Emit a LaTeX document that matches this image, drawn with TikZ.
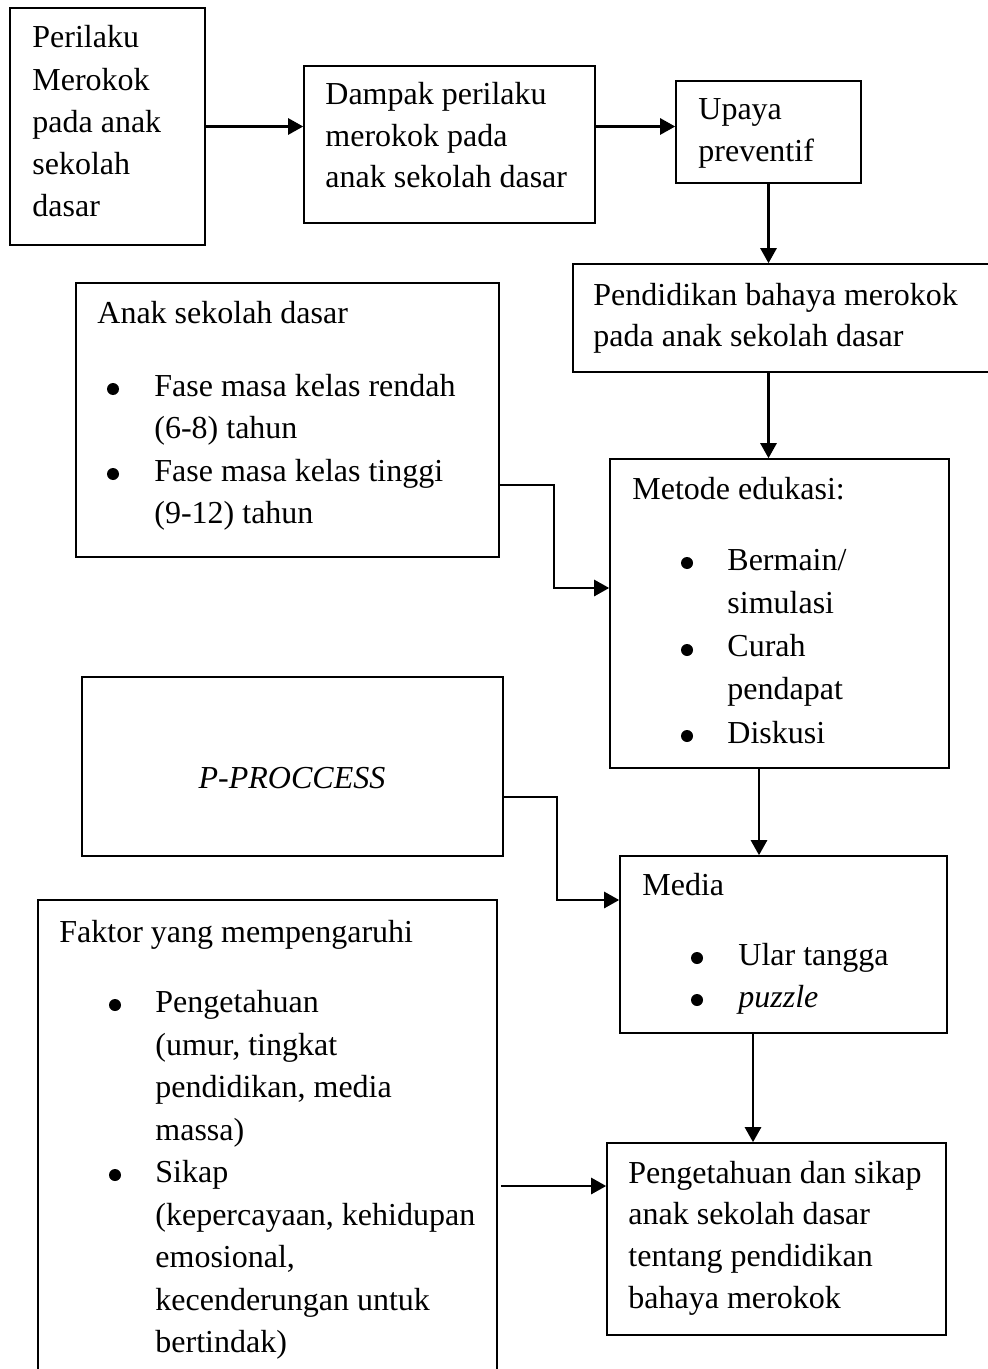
\documentclass[tikz,border=0pt]{standalone}
\usepackage{fontspec}
\setmainfont{Liberation Serif}
\usetikzlibrary{arrows.meta,fit}
\tikzset{
  kotak/.style={draw,line width=0.8pt,inner sep=0pt},
  txt/.style={anchor=base west,inner sep=0pt,font=\fontsize{16}{19}\selectfont},
  dot/.style={circle,fill,inner sep=0pt,minimum size=6pt},
  panah/.style={line width=1.3pt,-{Triangle[length=7.5pt,width=8pt]}}
}
\begin{document}
\begin{tikzpicture}[x=0.5pt,y=-0.5pt]
\useasboundingbox (0,0) rectangle (988,1369);
% kotak
\node[kotak,fit={(10,8) (205,245)}](perilaku){};
\node[kotak,fit={(304,66) (595,223)}](dampak){};
\node[kotak,fit={(676,81) (861,183)}](upaya){};
\node[kotak,fit={(573,264) (1010,372)}](pendidikan){};
\node[kotak,fit={(76,283) (499,557)}](anak){};
\node[kotak,fit={(610,459) (949,768)}](metode){};
\node[kotak,fit={(82,677) (503,856)}](pproc){};
\node[kotak,fit={(620,856) (947,1033)}](media){};
\node[kotak,fit={(38,900) (497,1400)}](faktor){};
\node[kotak,fit={(607,1143) (946,1335)}](hasil){};
% teks
\foreach \t [count=\i from 0] in {Perilaku,Merokok,pada anak,sekolah,dasar}
  \node[txt](perilaku-\i) at (32,48+42.2*\i){\t};
\foreach \t [count=\i from 0] in {Dampak perilaku,merokok pada,anak sekolah dasar}
  \node[txt](dampak-\i) at (325,105+41.5*\i){\t};
\foreach \t [count=\i from 0] in {Upaya,preventif}
  \node[txt](upaya-\i) at (698,120+42*\i){\t};
\foreach \t [count=\i from 0] in {Pendidikan bahaya merokok,pada anak sekolah dasar}
  \node[txt](pendidikan-\i) at (593,306+41*\i){\t};
\node[txt](anak-0) at (97,323){Anak sekolah dasar};
\foreach \t/\y [count=\i] in {Fase masa kelas rendah/396,(6-8) tahun/438,Fase masa kelas tinggi/481,(9-12) tahun/523}
  \node[txt](anak-\i) at (154,\y){\t};
\node[dot](anak-b1) at (113,389){};
\node[dot](anak-b2) at (113,474){};
\node[txt](metode-0) at (632,499){Metode edukasi:};
\foreach \t [count=\i] in {Bermain/,simulasi,Curah,pendapat,Diskusi}
  \node[txt](metode-\i) at (727,527+43.2*\i){\t};
\foreach \y [count=\i] in {563,650,736}
  \node[dot](metode-b\i) at (687,\y){};
\node[txt,anchor=base,font=\fontsize{16}{19}\selectfont\itshape](pproc-0) at (292,788){P-PROCCESS};
\node[txt](media-0) at (642,895){Media};
\node[txt](media-1) at (738,965){Ular tangga};
\node[txt](media-2) at (738,1007){\itshape puzzle};
\node[dot](media-b1) at (697,958){};
\node[dot](media-b2) at (697,1000){};
\node[txt](faktor-0) at (59,942){Faktor yang mempengaruhi};
\foreach \t [count=\i] in {Pengetahuan,{(umur, tingkat},{pendidikan, media},massa),Sikap,{(kepercayaan, kehidupan},{emosional,},kecenderungan untuk,bertindak)}
  \node[txt](faktor-\i) at (155,970+42.5*\i){\t};
\node[dot](faktor-b1) at (115,1005){};
\node[dot](faktor-b2) at (115,1175){};
\foreach \t [count=\i from 0] in {Pengetahuan dan sikap,anak sekolah dasar,tentang pendidikan,bahaya merokok}
  \node[txt](hasil-\i) at (628,1183+41.7*\i){\t};
% panah
\coordinate (ak1) at (554,485);
\coordinate (ak2) at (554,588);
\coordinate (pk1) at (557,797);
\coordinate (pk2) at (557,900);
\coordinate (mx) at (759,0);
\coordinate (hx) at (753,0);
\coordinate (fy) at (0,1186);
\draw[panah](perilaku.east)--(dampak.west |- perilaku.east);
\draw[panah](dampak.east |- perilaku.east)--(upaya.west |- perilaku.east);
\draw[panah](upaya.south)--(upaya.south |- pendidikan.north);
\draw[panah](pendidikan.south -| upaya)--(metode.north -| upaya);
\draw[panah](anak.east |- ak1)--(ak1)--(ak2)--(metode.west |- ak2);
\draw[panah](metode.south -| mx)--(media.north -| mx);
\draw[panah](pproc.east |- pk1)--(pk1)--(pk2)--(media.west |- pk2);
\draw[panah](media.south -| hx)--(hasil.north -| hx);
\draw[panah]([xshift=1.5pt]faktor.east |- fy)--(hasil.west |- fy);
\end{tikzpicture}
\end{document}
